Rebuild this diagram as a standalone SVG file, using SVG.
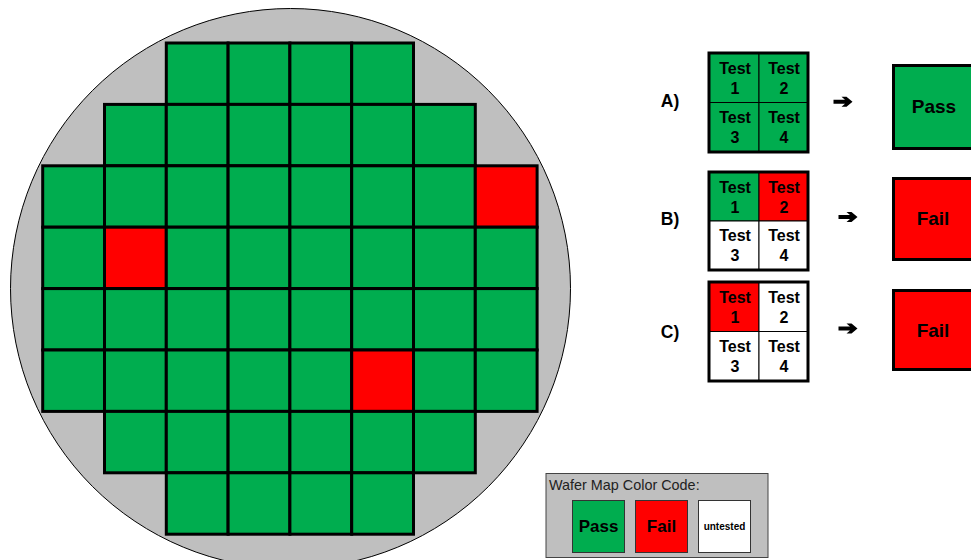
<svg xmlns="http://www.w3.org/2000/svg" width="971" height="560" viewBox="0 0 971 560">
<style>
.g{fill:#00AD4F}.r{fill:#FF0000}.w{fill:#FFFFFF}
.die{stroke:#000;stroke-width:3}
.cell{stroke:#000;stroke-width:1}
.frame{fill:none;stroke:#000;stroke-width:3}
.t{font-family:"Liberation Sans",Arial,sans-serif;font-weight:bold;font-size:16px;text-anchor:middle;fill:#000}
.lbl{font-family:"Liberation Sans",Arial,sans-serif;font-weight:bold;font-size:17.5px;text-anchor:middle;fill:#000}
.res{font-family:"Liberation Sans",Arial,sans-serif;font-weight:bold;font-size:19px;text-anchor:middle;fill:#000}
.lt{font-family:"Liberation Sans",Arial,sans-serif;font-weight:bold;font-size:17px;text-anchor:middle;fill:#000}
.leg{stroke:#333;stroke-width:1}
</style>
<defs>
<path id="arrow" d="M-9.5,-2 H2 L-1.5,-5 H3.5 L9.5,0 L3.5,5 H-1.5 L2,2 H-9.5 Z" fill="#000"/>
</defs>
<g id="wafer">
<circle cx="290.5" cy="288.5" r="280" fill="#BFBFBF" stroke="#000" stroke-width="1"/>
<g class="die">
<rect class="g" x="166.3" y="43" width="61.8" height="61.4"/>
<rect class="g" x="228.1" y="43" width="61.8" height="61.4"/>
<rect class="g" x="289.9" y="43" width="61.8" height="61.4"/>
<rect class="g" x="351.7" y="43" width="61.8" height="61.4"/>
<rect class="g" x="104.5" y="104.4" width="61.8" height="61.4"/>
<rect class="g" x="166.3" y="104.4" width="61.8" height="61.4"/>
<rect class="g" x="228.1" y="104.4" width="61.8" height="61.4"/>
<rect class="g" x="289.9" y="104.4" width="61.8" height="61.4"/>
<rect class="g" x="351.7" y="104.4" width="61.8" height="61.4"/>
<rect class="g" x="413.5" y="104.4" width="61.8" height="61.4"/>
<rect class="g" x="42.7" y="165.8" width="61.8" height="61.4"/>
<rect class="g" x="104.5" y="165.8" width="61.8" height="61.4"/>
<rect class="g" x="166.3" y="165.8" width="61.8" height="61.4"/>
<rect class="g" x="228.1" y="165.8" width="61.8" height="61.4"/>
<rect class="g" x="289.9" y="165.8" width="61.8" height="61.4"/>
<rect class="g" x="351.7" y="165.8" width="61.8" height="61.4"/>
<rect class="g" x="413.5" y="165.8" width="61.8" height="61.4"/>
<rect class="r" x="475.3" y="165.8" width="61.8" height="61.4"/>
<rect class="g" x="42.7" y="227.2" width="61.8" height="61.4"/>
<rect class="r" x="104.5" y="227.2" width="61.8" height="61.4"/>
<rect class="g" x="166.3" y="227.2" width="61.8" height="61.4"/>
<rect class="g" x="228.1" y="227.2" width="61.8" height="61.4"/>
<rect class="g" x="289.9" y="227.2" width="61.8" height="61.4"/>
<rect class="g" x="351.7" y="227.2" width="61.8" height="61.4"/>
<rect class="g" x="413.5" y="227.2" width="61.8" height="61.4"/>
<rect class="g" x="475.3" y="227.2" width="61.8" height="61.4"/>
<rect class="g" x="42.7" y="288.6" width="61.8" height="61.4"/>
<rect class="g" x="104.5" y="288.6" width="61.8" height="61.4"/>
<rect class="g" x="166.3" y="288.6" width="61.8" height="61.4"/>
<rect class="g" x="228.1" y="288.6" width="61.8" height="61.4"/>
<rect class="g" x="289.9" y="288.6" width="61.8" height="61.4"/>
<rect class="g" x="351.7" y="288.6" width="61.8" height="61.4"/>
<rect class="g" x="413.5" y="288.6" width="61.8" height="61.4"/>
<rect class="g" x="475.3" y="288.6" width="61.8" height="61.4"/>
<rect class="g" x="42.7" y="350" width="61.8" height="61.4"/>
<rect class="g" x="104.5" y="350" width="61.8" height="61.4"/>
<rect class="g" x="166.3" y="350" width="61.8" height="61.4"/>
<rect class="g" x="228.1" y="350" width="61.8" height="61.4"/>
<rect class="g" x="289.9" y="350" width="61.8" height="61.4"/>
<rect class="r" x="351.7" y="350" width="61.8" height="61.4"/>
<rect class="g" x="413.5" y="350" width="61.8" height="61.4"/>
<rect class="g" x="475.3" y="350" width="61.8" height="61.4"/>
<rect class="g" x="104.5" y="411.4" width="61.8" height="61.4"/>
<rect class="g" x="166.3" y="411.4" width="61.8" height="61.4"/>
<rect class="g" x="228.1" y="411.4" width="61.8" height="61.4"/>
<rect class="g" x="289.9" y="411.4" width="61.8" height="61.4"/>
<rect class="g" x="351.7" y="411.4" width="61.8" height="61.4"/>
<rect class="g" x="413.5" y="411.4" width="61.8" height="61.4"/>
<rect class="g" x="166.3" y="472.8" width="61.8" height="61.4"/>
<rect class="g" x="228.1" y="472.8" width="61.8" height="61.4"/>
<rect class="g" x="289.9" y="472.8" width="61.8" height="61.4"/>
<rect class="g" x="351.7" y="472.8" width="61.8" height="61.4"/>
</g>
</g>

<g id="labelA"><text class="lbl" x="670" y="106.5">A)</text></g>
<g id="labelB"><text class="lbl" x="670" y="224.5">B)</text></g>
<g id="labelC"><text class="lbl" x="670" y="337.5">C)</text></g>

<g id="testsA">
<rect class="g cell" x="709" y="53" width="50" height="49.5"/>
<rect class="g cell" x="759" y="53" width="49" height="49.5"/>
<rect class="g cell" x="709" y="102.5" width="50" height="49.5"/>
<rect class="g cell" x="759" y="102.5" width="49" height="49.5"/>
<rect class="frame" x="709" y="53" width="99" height="99"/>
<text class="t" x="735" y="73.5">Test</text><text class="t" x="735" y="93.5">1</text>
<text class="t" x="784" y="73.5">Test</text><text class="t" x="784" y="93.5">2</text>
<text class="t" x="735" y="122.5">Test</text><text class="t" x="735" y="142.5">3</text>
<text class="t" x="784" y="122.5">Test</text><text class="t" x="784" y="142.5">4</text>
</g>

<g id="testsB">
<rect class="g cell" x="709" y="172" width="50" height="49"/>
<rect class="r cell" x="759" y="172" width="49" height="49"/>
<rect class="w cell" x="709" y="221" width="50" height="49"/>
<rect class="w cell" x="759" y="221" width="49" height="49"/>
<rect class="frame" x="709" y="172" width="99" height="98"/>
<text class="t" x="735" y="192.5">Test</text><text class="t" x="735" y="212.5">1</text>
<text class="t" x="784" y="192.5">Test</text><text class="t" x="784" y="212.5">2</text>
<text class="t" x="735" y="240.5">Test</text><text class="t" x="735" y="260.5">3</text>
<text class="t" x="784" y="240.5">Test</text><text class="t" x="784" y="260.5">4</text>
</g>

<g id="testsC">
<rect class="r cell" x="709" y="282" width="50" height="49.5"/>
<rect class="w cell" x="759" y="282" width="49" height="49.5"/>
<rect class="w cell" x="709" y="331.5" width="50" height="49.5"/>
<rect class="w cell" x="759" y="331.5" width="49" height="49.5"/>
<rect class="frame" x="709" y="282" width="99" height="99"/>
<text class="t" x="735" y="303">Test</text><text class="t" x="735" y="323">1</text>
<text class="t" x="784" y="303">Test</text><text class="t" x="784" y="323">2</text>
<text class="t" x="735" y="352">Test</text><text class="t" x="735" y="372">3</text>
<text class="t" x="784" y="352">Test</text><text class="t" x="784" y="372">4</text>
</g>

<g id="resultA">
<rect class="g die" x="893.5" y="65.5" width="84" height="83"/>
<text class="res" x="934" y="112.5">Pass</text>
</g>
<g id="resultB">
<rect class="r die" x="893.5" y="178.5" width="84" height="81"/>
<text class="res" x="933" y="225">Fail</text>
</g>
<g id="resultC">
<rect class="r die" x="893.5" y="290.5" width="84" height="79"/>
<text class="res" x="933" y="336.5">Fail</text>
</g>

<g id="connectors">
<use href="#arrow" x="843" y="101.7"/>
<use href="#arrow" x="848" y="217"/>
<use href="#arrow" x="848" y="328.5"/>
</g>

<g id="legend">
<rect x="546" y="473.5" width="222" height="84" fill="#BFBFBF" stroke="#444" stroke-width="1"/>
<text x="549" y="490" font-family="Liberation Sans, Arial, sans-serif" font-size="14.4" fill="#222">Wafer Map Color Code:</text>
<rect class="g leg" x="572.5" y="500.5" width="52" height="52"/>
<text class="lt" x="598.5" y="532">Pass</text>
<rect class="r leg" x="635.5" y="500.5" width="52" height="52"/>
<text class="lt" x="661.5" y="532">Fail</text>
<rect class="w leg" x="698.5" y="500.5" width="52" height="52"/>
<text x="724.5" y="529.5" font-family="Liberation Sans, Arial, sans-serif" font-weight="bold" font-size="10" text-anchor="middle">untested</text>
</g>
</svg>
